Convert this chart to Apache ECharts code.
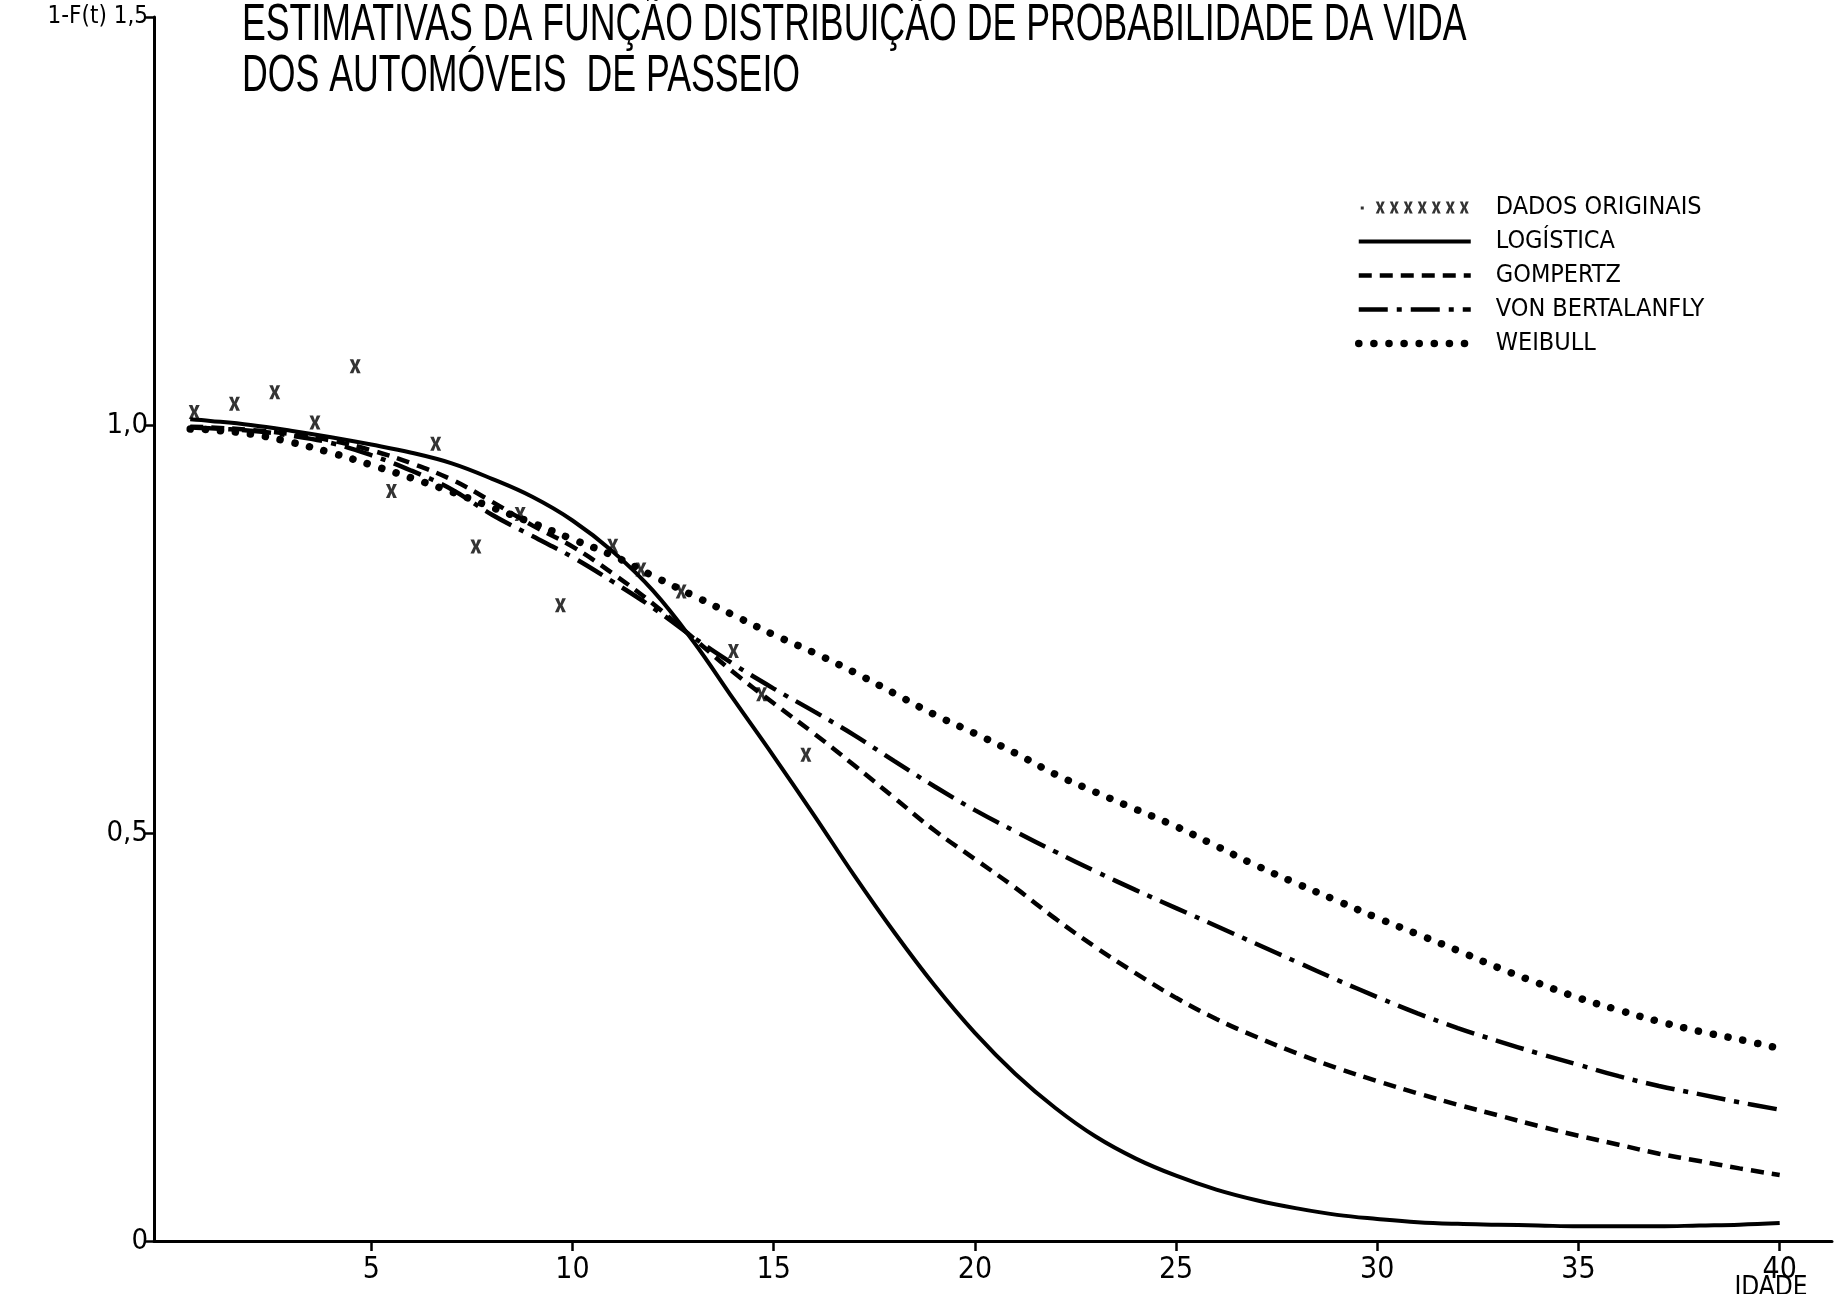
<!DOCTYPE html>
<html>
<head>
<meta charset="utf-8">
<script src="https://cdn.jsdelivr.net/npm/echarts@6/dist/echarts.min.js"></script>
<style>
  html, body { margin: 0; padding: 0; background: #fff; }
  #chart { width: 1847px; height: 1294px; }
</style>
</head>
<body>
<div id="chart"></div>
<script>
// Idade (anos) dos pontos observados e valores de 1-F(t)
const idadesObservadas = [0.6, 1.6, 2.6, 3.6, 4.6, 5.5, 6.6, 7.6, 8.7, 9.7, 11.0, 11.7, 12.7, 14.0, 14.7, 15.8];
const dadosOriginais   = [1.016, 1.026, 1.040, 1.003, 1.072, 0.919, 0.977, 0.851, 0.891, 0.779, 0.852, 0.823, 0.796, 0.723, 0.670, 0.596];

// Idades em que as curvas ajustadas foram tabeladas
const idades = [0.5, 1, 2, 3, 4, 5, 6, 7, 8, 9, 10, 11, 12, 13, 14, 15, 16, 17, 18, 19, 20,
                21, 22, 23, 24, 25, 26, 27, 28, 29, 30, 31, 32, 33, 34, 35, 36, 37, 38, 39, 40];

const logistica = [1.007, 1.005, 1.000, 0.993, 0.985, 0.976, 0.966, 0.953, 0.934, 0.912, 0.883,
                   0.845, 0.797, 0.735, 0.664, 0.594, 0.522, 0.448, 0.378, 0.313, 0.255,
                   0.205, 0.163, 0.128, 0.101, 0.080, 0.063, 0.050, 0.040, 0.032, 0.027,
                   0.023, 0.021, 0.020, 0.019, 0.018, 0.018, 0.018, 0.019, 0.020, 0.022];

const gompertz = [0.998, 0.997, 0.994, 0.989, 0.981, 0.969, 0.953, 0.933, 0.906, 0.877, 0.851,
                  0.818, 0.781, 0.739, 0.697, 0.659, 0.622, 0.583, 0.543, 0.503, 0.468,
                  0.433, 0.395, 0.360, 0.328, 0.298, 0.272, 0.250, 0.230, 0.212, 0.196,
                  0.181, 0.167, 0.154, 0.141, 0.129, 0.118, 0.107, 0.098, 0.089, 0.081];

const vonBertalanfly = [0.997, 0.996, 0.993, 0.987, 0.978, 0.963, 0.944, 0.921, 0.890, 0.864, 0.838,
                        0.808, 0.776, 0.740, 0.707, 0.677, 0.649, 0.620, 0.588, 0.557, 0.528,
                        0.502, 0.477, 0.453, 0.430, 0.408, 0.386, 0.364, 0.342, 0.320, 0.299,
                        0.279, 0.261, 0.245, 0.230, 0.216, 0.202, 0.190, 0.180, 0.170, 0.161];

const weibull = [0.995, 0.994, 0.989, 0.979, 0.966, 0.951, 0.935, 0.918, 0.899, 0.880, 0.860,
                 0.840, 0.815, 0.791, 0.767, 0.743, 0.721, 0.697, 0.671, 0.645, 0.622,
                 0.598, 0.572, 0.550, 0.529, 0.508, 0.484, 0.460, 0.438, 0.417, 0.396,
                 0.376, 0.356, 0.335, 0.316, 0.298, 0.283, 0.269, 0.257, 0.247, 0.236];

const ticksIdade = [5, 10, 15, 20, 25, 30, 35, 40];
const rotulosY = { 0: '0', 0.5: '0,5', 1: '1,0', 1.5: '{s|1-F(t) 1,5}' };

const NARROW = "'Liberation Sans Narrow', 'DejaVu Sans Condensed', 'Liberation Sans', sans-serif";
const INK = '#000';

// marcador em forma de "x" (traço grosso)
function xGlyph(x0) {
  return `M${x0},0 H${x0 + 3} L${x0 + 4.5},4.2 L${x0 + 6},0 H${x0 + 9} L${x0 + 6.2},6 L${x0 + 9},12 H${x0 + 6} L${x0 + 4.5},7.8 L${x0 + 3},12 H${x0} L${x0 + 2.8},6 Z`;
}
const X_PATH = 'path://' + xGlyph(0);
// ícone da legenda: ponto seguido de sete "x"
function legendaX() {
  let p = 'path://M0,5 H3 V8 H0 Z';
  for (let i = 0; i < 7; i++) p += ' ' + xGlyph(15 + i * 14);
  return p;
}

const pares = (ys) => idades.map((a, i) => [a, ys[i]]);

const estilos = {
  'LOGÍSTICA':       { color: INK, width: 4, type: 'solid' },
  'GOMPERTZ':        { color: INK, width: 4.5, type: [13, 8] },
  'VON BERTALANFLY': { color: INK, width: 4.5, type: [29, 9, 5, 9] },
  'WEIBULL':         { color: INK, width: 7.5, type: [0.1, 15], cap: 'round' }
};

const chart = echarts.init(document.getElementById('chart'), null, { renderer: 'canvas' });

chart.setOption({
  animation: false,
  backgroundColor: '#fff',
  grid: { left: 154, right: 15, top: 17, bottom: 53, containLabel: false, outerBoundsMode: 'none' },
  xAxis: {
    type: 'value',
    min: -0.4,
    max: 41.3,
    splitLine: { show: false },
    axisLine: { onZero: false, lineStyle: { color: INK, width: 3 } },
    axisTick: { customValues: ticksIdade, length: 10, lineStyle: { color: INK, width: 2.5 } },
    axisLabel: {
      customValues: ticksIdade, margin: 14, color: INK,
      fontFamily: NARROW, fontSize: 30
    }
  },
  yAxis: {
    type: 'value',
    min: 0,
    max: 1.5,
    interval: 0.5,
    splitLine: { show: false },
    axisLine: { onZero: false, lineStyle: { color: INK, width: 3 } },
    axisTick: { length: 10, lineStyle: { color: INK, width: 2.5 } },
    axisLabel: {
      margin: 6, color: INK, fontFamily: NARROW, fontSize: 29,
      formatter: (v) => rotulosY[v] !== undefined ? rotulosY[v] : '',
      rich: { s: { fontFamily: NARROW, fontSize: 24, color: INK } }
    }
  },
  legend: {
    orient: 'vertical',
    left: 1350,
    top: 190,
    itemWidth: 112,
    itemHeight: 12,
    itemGap: 9,
    selectedMode: false,
    itemStyle: { color: 'rgba(0,0,0,0)', borderWidth: 0 },
    textStyle: { color: INK, fontFamily: NARROW, fontSize: 25, lineHeight: 25, padding: [0, 0, 0, 20] },
    data: [
      { name: 'DADOS ORIGINAIS', icon: legendaX(), itemStyle: { color: INK } },
      { name: 'LOGÍSTICA', lineStyle: estilos['LOGÍSTICA'] },
      { name: 'GOMPERTZ', lineStyle: estilos['GOMPERTZ'] },
      { name: 'VON BERTALANFLY', lineStyle: estilos['VON BERTALANFLY'] },
      { name: 'WEIBULL', lineStyle: estilos['WEIBULL'] }
    ]
  },
  graphic: [
    {
      type: 'text', x: 242, y: 0, scaleX: 0.70,
      style: {
        text: 'ESTIMATIVAS DA FUNÇÃO DISTRIBUIÇÃO DE PROBABILIDADE DA VIDA',
        font: "51px 'Liberation Sans', sans-serif", fill: INK
      }
    },
    {
      type: 'text', x: 242, y: 51, scaleX: 0.70,
      style: {
        text: 'DOS AUTOMÓVEIS  DE PASSEIO',
        font: "51px 'Liberation Sans', sans-serif", fill: INK
      }
    },
    {
      // título do eixo das idades, sob o rótulo 40
      type: 'text', x: 1771, y: 1275,
      style: {
        text: 'IDADE', fill: INK,
        font: "26px 'Liberation Sans Narrow', 'DejaVu Sans Condensed', sans-serif",
        align: 'center', verticalAlign: 'top'
      }
    }
  ],
  series: [
    {
      name: 'DADOS ORIGINAIS',
      type: 'scatter',
      symbol: X_PATH,
      symbolSize: [11, 14],
      itemStyle: { color: INK },
      data: idadesObservadas.map((a, i) => [a, dadosOriginais[i]]),
      z: 5
    },
    {
      name: 'LOGÍSTICA',
      type: 'line',
      smooth: 0.4,
      symbol: 'none',
      lineStyle: estilos['LOGÍSTICA'],
      itemStyle: { color: INK },
      data: pares(logistica)
    },
    {
      name: 'GOMPERTZ',
      type: 'line',
      smooth: 0.4,
      symbol: 'none',
      lineStyle: estilos['GOMPERTZ'],
      itemStyle: { color: INK },
      data: pares(gompertz)
    },
    {
      name: 'VON BERTALANFLY',
      type: 'line',
      smooth: 0.4,
      symbol: 'none',
      lineStyle: estilos['VON BERTALANFLY'],
      itemStyle: { color: INK },
      data: pares(vonBertalanfly)
    },
    {
      name: 'WEIBULL',
      type: 'line',
      smooth: 0.4,
      symbol: 'none',
      lineStyle: estilos['WEIBULL'],
      itemStyle: { color: INK },
      data: pares(weibull)
    }
  ]
});
</script>
</body>
</html>
